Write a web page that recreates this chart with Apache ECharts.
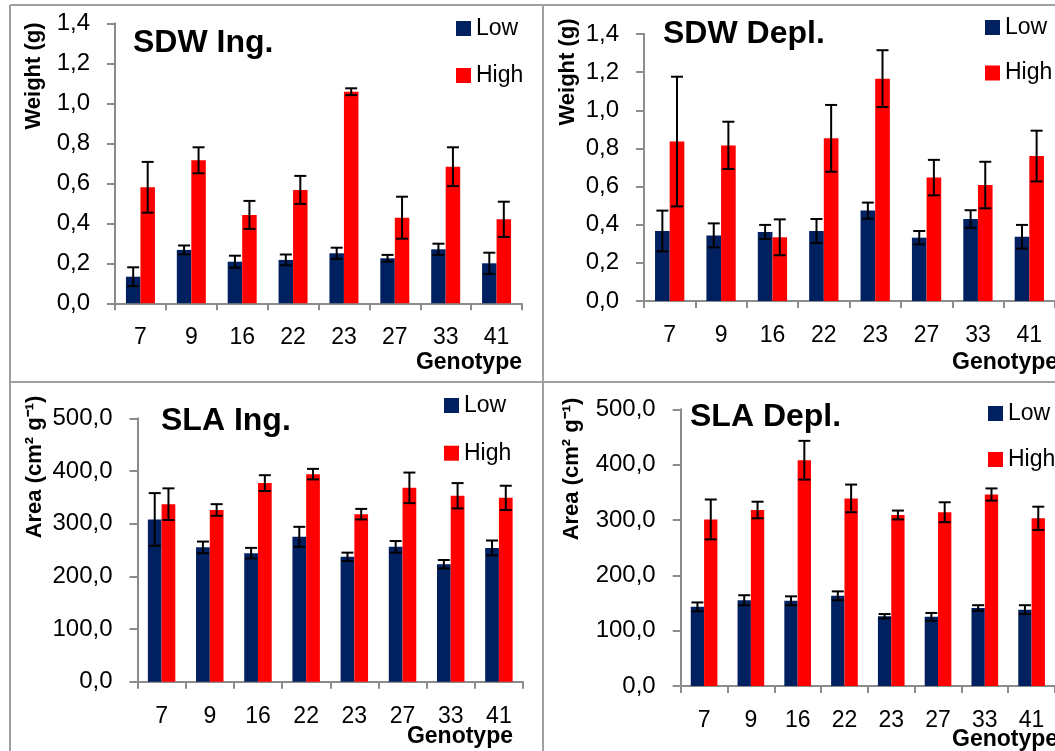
<!DOCTYPE html>
<html>
<head>
<meta charset="utf-8">
<script src="https://cdn.jsdelivr.net/npm/echarts@6/dist/echarts.min.js"></script>
<style>
html,body{margin:0;padding:0;background:#fff;}
#chart{width:1055px;height:751px;}
</style>
</head>
<body>
<div id="chart"></div>
<script>
// ---- data ----
const categories = ['7', '9', '16', '22', '23', '27', '33', '41'];

const sdwIngLow      = [0.133, 0.267, 0.208, 0.217, 0.250, 0.225, 0.270, 0.200];
const sdwIngLowErr   = [0.047, 0.022, 0.030, 0.027, 0.028, 0.017, 0.028, 0.053];
const sdwIngHigh     = [0.580, 0.715, 0.442, 0.567, 1.058, 0.428, 0.683, 0.420];
const sdwIngHighErr  = [0.127, 0.065, 0.070, 0.070, 0.017, 0.105, 0.097, 0.088];

const sdwDeplLow     = [0.367, 0.344, 0.362, 0.367, 0.474, 0.332, 0.430, 0.337];
const sdwDeplLowErr  = [0.107, 0.063, 0.037, 0.063, 0.042, 0.035, 0.046, 0.062];
const sdwDeplHigh    = [0.836, 0.816, 0.334, 0.853, 1.166, 0.647, 0.608, 0.760];
const sdwDeplHighErr = [0.340, 0.124, 0.094, 0.175, 0.149, 0.093, 0.122, 0.133];

const slaIngLow      = [308, 255, 244, 275, 237, 256, 223, 254];
const slaIngLowErr   = [50, 11, 10, 19, 8, 11, 8, 14];
const slaIngHigh     = [337, 326, 377, 394, 318, 368, 353, 349];
const slaIngHighErr  = [30, 11, 15, 10, 10, 29, 24, 23];

const slaDeplLow     = [143, 155, 154, 163, 126, 125, 141, 138];
const slaDeplLowErr  = [8, 9, 8, 8, 4, 7, 5, 8];
const slaDeplHigh    = [301, 318, 408, 339, 309, 314, 346, 303];
const slaDeplHighErr = [36, 15, 35, 25, 8, 18, 11, 21];

const sdwTickLabels = ['0,0', '0,2', '0,4', '0,6', '0,8', '1,0', '1,2', '1,4'];
const slaTickLabels = ['0,0', '100,0', '200,0', '300,0', '400,0', '500,0'];

const seriesNames = ['Low', 'High'];
const panelTitles = ['SDW Ing.', 'SDW Depl.', 'SLA Ing.', 'SLA Depl.'];
const yNames = ['Weight (g)', 'Weight (g)', 'Area (cm² g⁻¹)', 'Area (cm² g⁻¹)'];
const xName = 'Genotype';

// ---- styling ----
const FONT = '"Liberation Sans", Arial, sans-serif';
const NAVY = '#002060';
const RED = '#ff0000';
const AXIS_GRAY = '#8c8c8c';
const BAR_FRAC = 0.285;

const panels = [
  {low: sdwIngLow,  lowErr: sdwIngLowErr,  high: sdwIngHigh,  highErr: sdwIngHighErr,  max: 1.4, interval: 0.2, ticks: sdwTickLabels},
  {low: sdwDeplLow, lowErr: sdwDeplLowErr, high: sdwDeplHigh, highErr: sdwDeplHighErr, max: 1.4, interval: 0.2, ticks: sdwTickLabels},
  {low: slaIngLow,  lowErr: slaIngLowErr,  high: slaIngHigh,  highErr: slaIngHighErr,  max: 500, interval: 100, ticks: slaTickLabels},
  {low: slaDeplLow, lowErr: slaDeplLowErr, high: slaDeplHigh, highErr: slaDeplHighErr, max: 500, interval: 100, ticks: slaTickLabels}
];

const gridBoxes = [
  {left: 115, top: 23.3, width: 407, height: 280},
  {left: 644, top: 34, width: 421, height: 267},
  {left: 137.5, top: 418.3, width: 385.5, height: 263.4},
  {left: 680.7, top: 409.3, width: 380, height: 276.7}
];
const titlePos = [
  {left: 133, top: 27}, {left: 663, top: 18}, {left: 161, top: 405}, {left: 690, top: 401}
];
const legendPos = [
  {left: 456, top: 17, gap: 24}, {left: 985, top: 16, gap: 22.5},
  {left: 444, top: 394, gap: 24.7}, {left: 988, top: 402, gap: 23}
];
const yNamePos = [[34, 76], [568, 72], [35, 467], [572, 469]];
const xNamePos = [
  {x: 522, y: 363, align: 'right'}, {x: 952, y: 363, align: 'left'},
  {x: 513, y: 737, align: 'right'}, {x: 952, y: 740, align: 'left'}
];

function errRenderer(sign) {
  return function (params, api) {
    const i = api.value(0), v = api.value(1), e = api.value(2);
    const band = api.size([1, 0])[0];
    const x = api.coord([i, v])[0] + sign * band * BAR_FRAC / 2;
    const yTop = api.coord([i, v + e])[1];
    const yBot = api.coord([i, v - e])[1];
    const cap = 6;
    const st = {stroke: '#000', lineWidth: 2};
    return {
      type: 'group',
      children: [
        {type: 'line', shape: {x1: x, y1: yTop, x2: x, y2: yBot}, style: st},
        {type: 'line', shape: {x1: x - cap, y1: yTop, x2: x + cap, y2: yTop}, style: st},
        {type: 'line', shape: {x1: x - cap, y1: yBot, x2: x + cap, y2: yBot}, style: st}
      ]
    };
  };
}

const grid = [], xAxis = [], yAxis = [], series = [], title = [], legend = [];
panels.forEach((p, k) => {
  grid.push(Object.assign({containLabel: false}, gridBoxes[k]));
  xAxis.push({
    type: 'category', gridIndex: k, data: categories,
    axisLine: {show: true, lineStyle: {color: AXIS_GRAY, width: 2}},
    axisTick: {show: true, length: 7, lineStyle: {color: AXIS_GRAY, width: 2}},
    axisLabel: {margin: 23, fontSize: 23, color: '#000', fontFamily: FONT},
    splitLine: {show: false}
  });
  yAxis.push({
    type: 'value', gridIndex: k, min: 0, max: p.max, interval: p.interval,
    axisLine: {show: true, lineStyle: {color: AXIS_GRAY, width: 2}},
    axisTick: {show: true, length: 8, lineStyle: {color: AXIS_GRAY, width: 2}},
    axisLabel: {
      margin: 25, fontSize: 24, color: '#000', fontFamily: FONT,
      formatter: (v) => p.ticks[Math.round(v / p.interval)]
    },
    splitLine: {show: false}
  });
  series.push({
    name: seriesNames[0], type: 'bar', xAxisIndex: k, yAxisIndex: k,
    data: p.low, barWidth: (BAR_FRAC * 100) + '%', barGap: '0%',
    itemStyle: {color: NAVY}, z: 2
  });
  series.push({
    name: seriesNames[1], type: 'bar', xAxisIndex: k, yAxisIndex: k,
    data: p.high, barWidth: (BAR_FRAC * 100) + '%', barGap: '0%',
    itemStyle: {color: RED}, z: 2
  });
  series.push({
    type: 'custom', xAxisIndex: k, yAxisIndex: k, z: 5,
    renderItem: errRenderer(-1), encode: {x: 0, y: 1},
    data: p.low.map((v, i) => [i, v, p.lowErr[i]]), silent: true
  });
  series.push({
    type: 'custom', xAxisIndex: k, yAxisIndex: k, z: 5,
    renderItem: errRenderer(1), encode: {x: 0, y: 1},
    data: p.high.map((v, i) => [i, v, p.highErr[i]]), silent: true
  });
  title.push({
    text: panelTitles[k], left: titlePos[k].left, top: titlePos[k].top, padding: 0,
    textStyle: {fontSize: 32, fontWeight: 'bold', color: '#000', fontFamily: FONT}
  });
  legend.push({
    data: seriesNames, orient: 'vertical', left: legendPos[k].left, top: legendPos[k].top,
    itemGap: legendPos[k].gap, itemWidth: 15, itemHeight: 15, padding: 0, icon: 'rect',
    selectedMode: false,
    textStyle: {fontSize: 23, color: '#000', fontFamily: FONT, lineHeight: 23}
  });
});

const graphic = [];
// frame lines
const FRAME = {stroke: '#a0a0a0', lineWidth: 2};
[[10, 5, 1055, 5], [10, 382, 1055, 382], [10, 5, 10, 751], [543, 5, 543, 751]].forEach(s => {
  graphic.push({type: 'line', shape: {x1: s[0], y1: s[1], x2: s[2], y2: s[3]}, style: FRAME, z: 0});
});
yNamePos.forEach((pos, k) => {
  graphic.push({
    type: 'text', x: pos[0], y: pos[1], rotation: Math.PI / 2,
    style: {text: yNames[k], font: 'bold 22px ' + FONT, fill: '#000',
      textAlign: 'center', textVerticalAlign: 'middle', align: 'center', verticalAlign: 'middle'}
  });
});
xNamePos.forEach((pos) => {
  graphic.push({
    type: 'text', x: pos.x, y: pos.y,
    style: {text: xName, font: 'bold 23px ' + FONT, fill: '#000',
      textAlign: pos.align, textVerticalAlign: 'middle', align: pos.align, verticalAlign: 'middle'}
  });
});

const chart = echarts.init(document.getElementById('chart'), null, {renderer: 'canvas'});
chart.setOption({
  backgroundColor: '#fff',
  animation: false,
  title, legend, grid, xAxis, yAxis, series, graphic
});
</script>
</body>
</html>
